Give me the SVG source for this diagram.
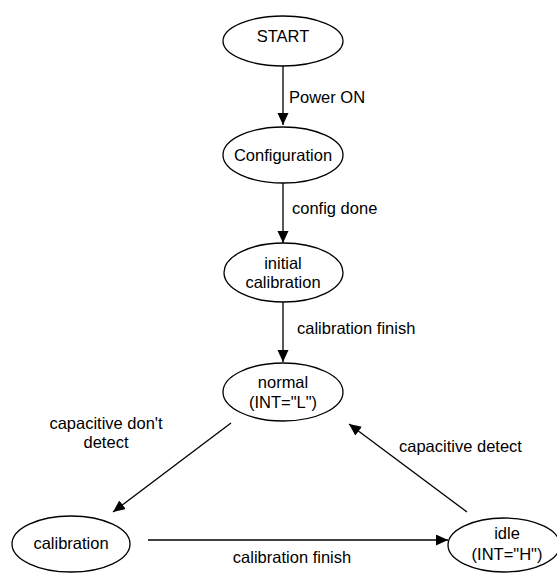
<svg xmlns="http://www.w3.org/2000/svg" width="557" height="573" viewBox="0 0 557 573">
<defs>
<style>
.node ellipse{fill:#fff;stroke:#000;stroke-width:1.3}
text{font-family:"Liberation Sans",Arial,sans-serif;font-size:16.5px;fill:#000}
.c{text-anchor:middle}
.edges line{stroke:#000;stroke-width:1.3}
</style>
<marker id="arr" markerUnits="userSpaceOnUse" markerWidth="14" markerHeight="12" refX="12" refY="5.5" orient="auto">
<path d="M0,0 L12,5.5 L0,11 z" fill="#000"/>
</marker>
</defs>
<rect width="557" height="573" fill="#fff"/>
<g class="edges">
<line x1="283" y1="66" x2="283" y2="125" marker-end="url(#arr)"/>
<line x1="283" y1="183" x2="283" y2="243" marker-end="url(#arr)"/>
<line x1="283" y1="302" x2="283" y2="362" marker-end="url(#arr)"/>
<line x1="231" y1="423" x2="113" y2="512" marker-end="url(#arr)"/>
<line x1="467" y1="512" x2="349" y2="424" marker-end="url(#arr)"/>
<line x1="148" y1="540" x2="448" y2="540" marker-end="url(#arr)"/>
<text x="289" y="103">Power ON</text>
<text x="292" y="214">config done</text>
<text x="297" y="334">calibration finish</text>
<text class="c" x="106" y="429">capacitive don't</text>
<text class="c" x="106" y="448">detect</text>
<text x="399" y="452">capacitive detect</text>
<text class="c" x="292" y="563">calibration finish</text>
</g>
<g id="start" class="node">
<ellipse cx="283" cy="41" rx="60" ry="25"/>
<text class="c" x="283" y="42">START</text>
</g>
<g id="configuration" class="node">
<ellipse cx="283" cy="155" rx="60" ry="28"/>
<text class="c" x="283" y="161">Configuration</text>
</g>
<g id="initial-calibration" class="node">
<ellipse cx="283.5" cy="272.5" rx="59.5" ry="29.5"/>
<text class="c" x="283" y="269">initial</text>
<text class="c" x="283" y="288">calibration</text>
</g>
<g id="normal" class="node">
<ellipse cx="283" cy="392" rx="60" ry="29"/>
<text class="c" x="283" y="388">normal</text>
<text class="c" x="283" y="408">(INT="L")</text>
</g>
<g id="calibration" class="node">
<ellipse cx="71" cy="544" rx="59" ry="28"/>
<text class="c" x="71" y="549">calibration</text>
</g>
<g id="idle" class="node">
<ellipse cx="504" cy="545" rx="56" ry="27"/>
<text class="c" x="507" y="539">idle</text>
<text class="c" x="507" y="560">(INT="H")</text>
</g>
</svg>
